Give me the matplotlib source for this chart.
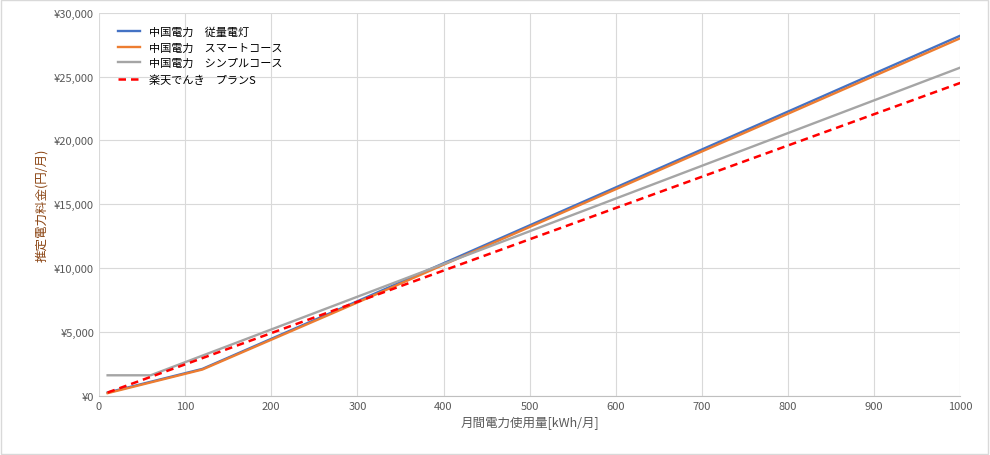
import matplotlib
matplotlib.use("Agg")
import matplotlib.pyplot as plt
from matplotlib.ticker import FuncFormatter

plt.rcParams['font.family'] = ['Noto Sans CJK JP', 'DejaVu Sans']

names = ["中国電力　従量電灯", "中国電力　スマートコース", "中国電力　シンプルコース", "楽天でんき　プランS"]
x_blue = [10, 120, 300, 1000]; y_blue = [250, 2100, 7400, 28200]
x_orange = [10, 120, 300, 1000]; y_orange = [200, 2050, 7300, 28000]
x_gray = [10, 60, 1000]; y_gray = [1600, 1600, 25700]
x_red = [10, 1000]; y_red = [250, 24500]

fig = plt.figure(figsize=(9.9, 4.56), dpi=100)
ax = fig.add_axes([0.1, 0.13, 0.87, 0.84])
ax.plot(x_blue, y_blue, color="#4472C4", lw=1.7, label=names[0])
ax.plot(x_orange, y_orange, color="#ED7D31", lw=1.7, label=names[1])
ax.plot(x_gray, y_gray, color="#A5A5A5", lw=1.7, label=names[2])
ax.plot(x_red, y_red, color="#FF0000", lw=1.8, ls=(0, (3, 2)), label=names[3])
ax.set_xlim(0, 1000); ax.set_ylim(0, 30000)
ax.set_xticks(range(0, 1001, 100)); ax.set_yticks(range(0, 30001, 5000))
ax.yaxis.set_major_formatter(FuncFormatter(lambda v, p: f"¥{int(v):,}"))
ax.grid(color="#D9D9D9", lw=0.8)
for s in ax.spines.values(): s.set_visible(False)
ax.spines['bottom'].set_visible(True); ax.spines['bottom'].set_color("#BFBFBF")
ax.tick_params(length=0, labelsize=8, colors="#595959")
ax.set_xlabel("月間電力使用量[kWh/月]", fontsize=9, color="#595959")
ax.set_ylabel("推定電力料金(円/月)", fontsize=9, color="#8B4513")
ax.legend(loc="upper left", frameon=False, fontsize=8, bbox_to_anchor=(0.01, 0.99))
fig.patches.append(plt.Rectangle((0.001, 0.002), 0.997, 0.995, transform=fig.transFigure, fill=False, ec="#D9D9D9"))
fig.savefig("out.png")
